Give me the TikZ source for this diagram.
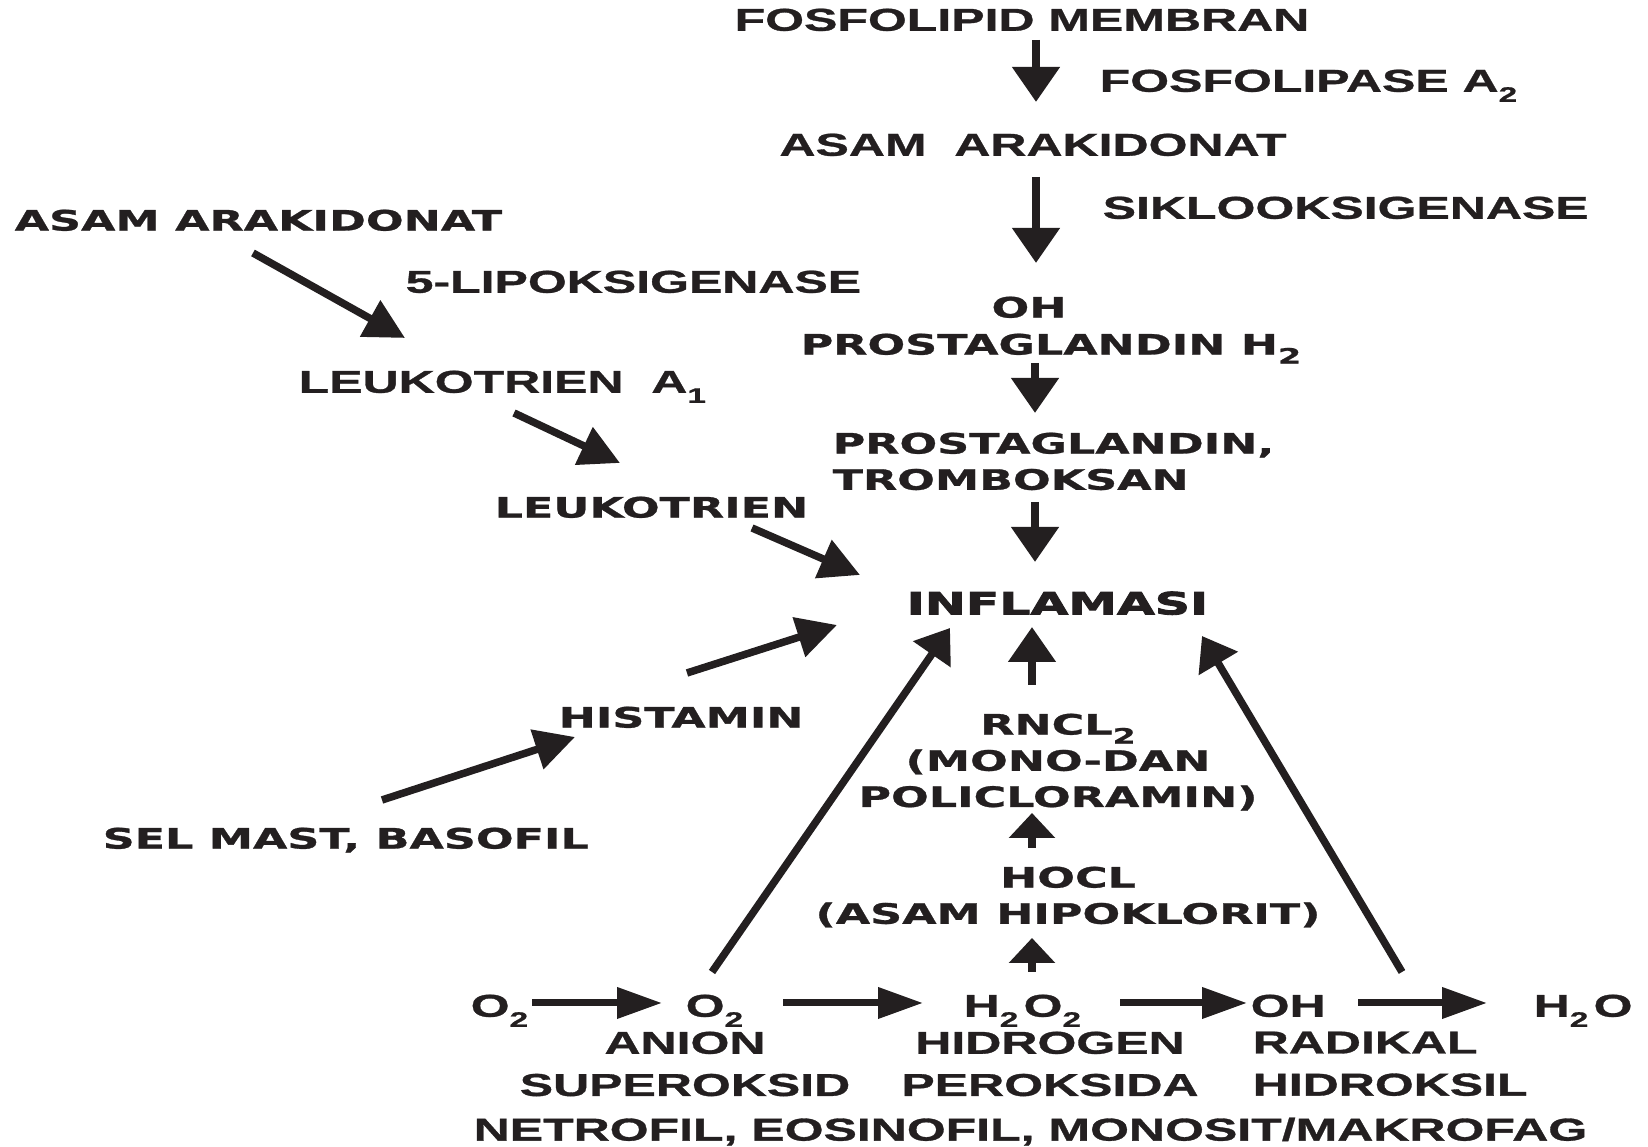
\documentclass[tikz,border=0pt]{standalone}
\usepackage{fontspec}
\usetikzlibrary{arrows.meta}

% huruf: hasil pindaian melebar ke samping, jadi hurufnya ikut direntangkan
\newfontfamily\hurufA{Liberation Sans}[FakeStretch=1.58, BoldFeatures={FakeBold=1}]
\newfontfamily\hurufB{DejaVu Sans}[FakeStretch=1.58, BoldFeatures={FakeBold=1}]
\newfontfamily\hurufC{DejaVu Sans}[FakeStretch=1.6, BoldFeatures={FakeBold=3}]
\newcommand{\subs}[1]{\raisebox{-0.32em}{\fontsize{6}{6}\selectfont #1}}

\definecolor{tinta}{RGB}{35,31,32}

\tikzset{
  teksA/.style={inner sep=0pt, text=tinta, font=\hurufA\bfseries\fontsize{9}{12}\selectfont},
  teksB/.style={inner sep=0pt, text=tinta, font=\hurufB\bfseries\fontsize{8}{10.3}\selectfont},
  teksC/.style={inner sep=0pt, text=tinta, font=\hurufC\bfseries\fontsize{8.7}{10}\selectfont},
  panah/.style={draw=tinta, line width=0.8mm, -{Triangle[width=4.6mm, length=3.5mm]}},
  panahkecil/.style={draw=tinta, line width=0.8mm, -{Triangle[width=4.5mm, length=2.5mm]}},
  panahmiring/.style={draw=tinta, line width=0.75mm, -{Triangle[width=4mm, length=4mm]}},
  panahbesar/.style={draw=tinta, line width=0.75mm, -{Triangle[width=4.4mm, length=3.2mm]}},
  panahdatar/.style={draw=tinta, line width=0.7mm, -{Triangle[width=3mm, length=4.5mm]}}
}

\begin{document}
\begin{tikzpicture}

  \fill[white] (0,0) rectangle (16.48,11.47);
  \useasboundingbox (0,0) rectangle (16.48,11.47);

  % --- Jalur siklooksigenase (kolom tengah) ---
  \node[teksA, anchor=north] (fosfo) at (10.22, 11.39) {FOSFOLIPID MEMBRAN};
  \node[teksA, anchor=north west] (fosfolipase) at (10.99, 10.78) {FOSFOLIPASE A\subs{2}};
  \node[teksA, anchor=north] (asamT) at (10.33, 10.14) {ASAM\ \ ARAKIDONAT};
  \node[teksA, anchor=north west] (siklo) at (11.02, 9.51) {SIKLOOKSIGENASE};
  \node[teksB, anchor=north] (ohT) at (10.29, 8.51) {OH};
  \node[teksB, anchor=north west] (pgh) at (8.00, 8.14) {PROSTAGLANDIN H\subs{2}};
  \node[teksB, anchor=north west, align=left] (pgtx) at (8.32, 7.15) {PROSTAGLANDIN,\\TROMBOKSAN};
  \node[teksC, anchor=north west] (infl) at (9.06, 5.56) {INFLAMASI};

  % --- Jalur lipoksigenase (kiri) ---
  \node[teksB, anchor=north west] (asamL) at (0.14, 9.38) {ASAM ARAKIDONAT};
  \node[teksA, anchor=north west] (lipoks) at (4.05, 8.77) {5-LIPOKSIGENASE};
  \node[teksA, anchor=north west] (leukoA) at (2.98, 7.77) {LEUKOTRIEN\ \ A\subs{1}};
  \node[teksB, anchor=north west] (leuko) at (4.94, 6.51) {LEUKOTRIEN};
  \node[teksB, anchor=north west] (hist) at (5.58, 4.41) {HISTAMIN};
  \node[teksB, anchor=north west] (selmast) at (1.02, 3.20) {SEL MAST, BASOFIL};

  % --- Klorin (kolom tengah bawah) ---
  \node[teksB, anchor=north, align=center] (rncl) at (10.58, 4.34) {RNCL\subs{2}\\(MONO-DAN\\POLICLORAMIN)};
  \node[teksB, anchor=north, align=center] (hocl) at (10.68, 2.81) {HOCL\\(ASAM HIPOKLORIT)};

  % --- Baris oksigen reaktif ---
  \node[teksA, anchor=north west] (o2a) at (4.70, 1.53) {O\subs{2}};
  \node[teksA, anchor=north west] (o2b) at (6.85, 1.53) {O\subs{2}};
  \node[teksA, anchor=north west] (h2o2) at (9.63, 1.53) {H\subs{2}\,O\subs{2}};
  \node[teksA, anchor=north west] (ohB) at (12.50, 1.53) {OH};
  \node[teksA, anchor=north west] (h2o) at (15.33, 1.53) {H\subs{2}\,O};
  \node[teksA, anchor=north, align=center] (anion) at (6.85, 1.16) {ANION\\SUPEROKSID};
  \node[teksA, anchor=north, align=center] (hidro) at (10.50, 1.16) {HIDROGEN\\PEROKSIDA};
  \node[teksA, anchor=north west, align=left] (radik) at (12.52, 1.16) {RADIKAL\\HIDROKSIL};
  \node[teksA, anchor=north west] (netro) at (4.73, 0.30) {NETROFIL, EOSINOFIL, MONOSIT/MAKROFAG};

  % --- Ujung-ujung panah ---
  \coordinate (A1) at (10.36, 11.07); \coordinate (A1e) at (10.36, 10.45);
  \coordinate (A2) at (10.36, 9.70);  \coordinate (A2e) at (10.36, 8.84);
  \coordinate (A3) at (10.35, 7.84);  \coordinate (A3e) at (10.35, 7.34);
  \coordinate (A4) at (10.35, 6.45);  \coordinate (A4e) at (10.35, 5.85);

  \coordinate (L1) at (2.53, 8.94);   \coordinate (L1e) at (4.05, 8.09);
  \coordinate (L2) at (5.14, 7.34);   \coordinate (L2e) at (6.20, 6.84);
  \coordinate (L3) at (7.52, 6.19);   \coordinate (L3e) at (8.60, 5.72);
  \coordinate (H1) at (6.87, 4.74);   \coordinate (H1e) at (8.37, 5.22);
  \coordinate (S1) at (3.82, 3.47);   \coordinate (S1e) at (5.75, 4.10);

  \coordinate (U1) at (10.32, 4.62);  \coordinate (U1e) at (10.32, 5.20);
  \coordinate (U2) at (10.32, 2.99);  \coordinate (U2e) at (10.32, 3.34);
  \coordinate (U3) at (10.32, 1.75);  \coordinate (U3e) at (10.32, 2.09);

  \coordinate (BL) at (7.12, 1.75);   \coordinate (BLe) at (9.50, 5.19);
  \coordinate (BR) at (14.02, 1.75);  \coordinate (BRe) at (12.02, 5.11);

  \coordinate (D1) at (5.32, 1.44);   \coordinate (D1e) at (6.62, 1.44);
  \coordinate (D2) at (7.83, 1.44);   \coordinate (D2e) at (9.23, 1.44);
  \coordinate (D3) at (11.20, 1.44);  \coordinate (D3e) at (12.47, 1.44);
  \coordinate (D4) at (13.58, 1.44);  \coordinate (D4e) at (14.87, 1.44);

  % --- Panah ---
  \draw[panah] (A1) -- (A1e);
  \draw[panah] (A2) -- (A2e);
  \draw[panah] (A3) -- (A3e);
  \draw[panah] (A4) -- (A4e);

  \draw[panahmiring] (L1) -- (L1e);
  \draw[panahmiring] (L2) -- (L2e);
  \draw[panahmiring] (L3) -- (L3e);
  \draw[panahmiring] (H1) -- (H1e);
  \draw[panahmiring] (S1) -- (S1e);

  \draw[panah] (U1) -- (U1e);
  \draw[panahkecil] (U2) -- (U2e);
  \draw[panahkecil] (U3) -- (U3e);

  \draw[panahbesar] (BL) -- (BLe);
  \draw[panahbesar] (BR) -- (BRe);

  \draw[panahdatar] (D1) -- (D1e);
  \draw[panahdatar] (D2) -- (D2e);
  \draw[panahdatar] (D3) -- (D3e);
  \draw[panahdatar] (D4) -- (D4e);

\end{tikzpicture}
\end{document}
